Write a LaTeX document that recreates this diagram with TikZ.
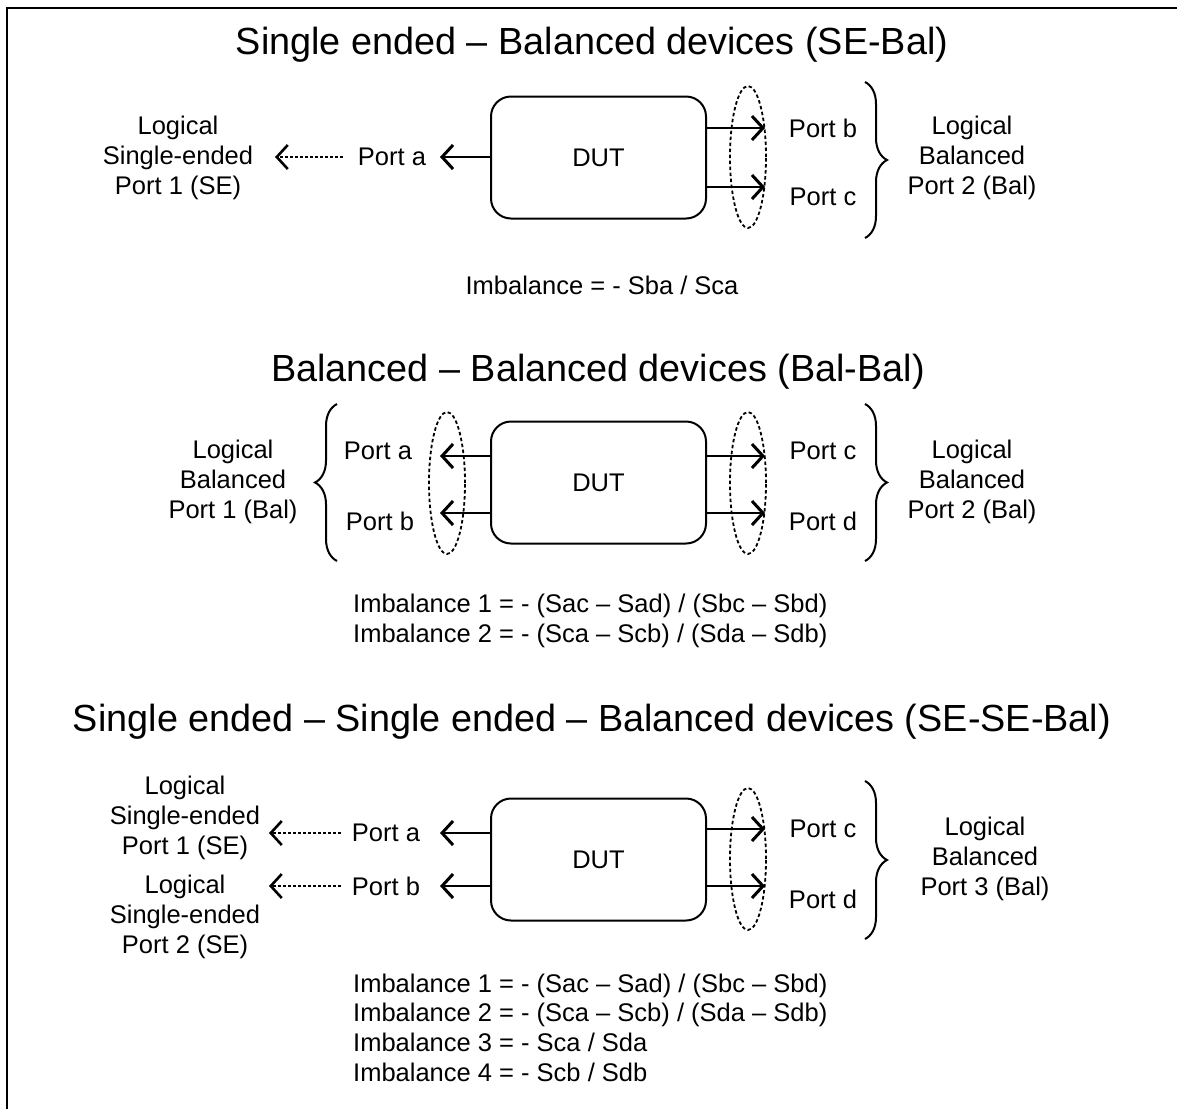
\documentclass[tikz,border=0pt]{standalone}
\usepackage{fontspec}
\setmainfont{Liberation Sans}
\usetikzlibrary{arrows.meta,decorations.pathreplacing,shapes.geometric}
\newcommand{\bodyf}{\fontsize{25.5pt}{30pt}\selectfont}
\newcommand{\titlef}{\fontsize{37.8pt}{44pt}\selectfont}
\begin{document}
\begin{tikzpicture}[x=1pt,y=-1pt,
  dutbox/.style={draw, line width=2pt, rounded corners=20pt, minimum width=215pt, minimum height=122pt, inner sep=0pt, font=\bodyf},
  arr/.style={line width=2.2pt, -{Straight Barb[length=11pt,width=24pt,line width=3pt]}},
  dasharr/.style={line width=1.6pt, dash pattern=on 3pt off 2pt, -{Straight Barb[length=11pt,width=24pt,line width=2.6pt]}},
  grp/.style={draw, ellipse, dash pattern=on 3.5pt off 2.5pt, line width=1.8pt, minimum width=36pt, minimum height=142pt, inner sep=0pt},
  brc/.style={decorate, decoration={brace, amplitude=22pt}, line width=2pt},
  lbl/.style={font=\bodyf, inner sep=0pt, align=center},
  ttl/.style={font=\titlef, inner sep=0pt}
]
\useasboundingbox (0,0) rectangle (1177,1109);
\draw[line width=2.5pt] (7,1109) -- (7,8) -- (1177,8);

%% Section 1
\node[ttl] (t1) at (592,45) {Single ended -- Balanced devices (SE-Bal)};
\node[dutbox] (d1) at (598.5,157.5) {DUT};
\node[lbl] (pa1) at (392,157) {Port a};
\node[lbl] (l1) at (178,158) {Logical\\Single-ended\\Port 1 (SE)};
\coordinate (a1e) at (440,157);
\draw[arr] (d1.west |- a1e) -- (a1e);
\coordinate (a1s) at (343,157);
\coordinate (a1t) at (275,157);
\draw[dasharr] (a1s) -- (a1t);
\coordinate (b1e) at (765,128);
\coordinate (c1e) at (765,187);
\draw[arr] (d1.east |- b1e) -- (b1e);
\draw[arr] (d1.east |- c1e) -- (c1e);
\node[grp] (e1) at (748,157) {};
\node[lbl] (pb1) at (823,128) {Port b};
\node[lbl] (pc1) at (823,197) {Port c};
\coordinate (br1a) at (865,82);
\coordinate (br1b) at (865,238);
\draw[brc] (br1a) -- (br1b);
\node[lbl] (r1) at (972,158) {Logical\\Balanced\\Port 2 (Bal)};
\node[lbl] (i1) at (602,285) {Imbalance = - Sba / Sca};

%% Section 2
\node[ttl] (t2) at (598,372) {Balanced -- Balanced devices (Bal-Bal)};
\node[dutbox] (d2) at (598.5,482.5) {DUT};
\coordinate (a2e) at (440,456);
\coordinate (b2e) at (440,513);
\draw[arr] (d2.west |- a2e) -- (a2e);
\draw[arr] (d2.west |- b2e) -- (b2e);
\node[grp] (e2l) at (447,483) {};
\node[lbl] (pa2) at (378,451) {Port a};
\node[lbl] (pb2) at (380,521) {Port b};
\coordinate (br2a) at (337,561);
\coordinate (br2b) at (337,404);
\draw[brc] (br2a) -- (br2b);
\node[lbl] (l2) at (233,482) {Logical\\Balanced\\Port 1 (Bal)};
\coordinate (c2e) at (765,456);
\coordinate (dd2e) at (765,513);
\draw[arr] (d2.east |- c2e) -- (c2e);
\draw[arr] (d2.east |- dd2e) -- (dd2e);
\node[grp] (e2r) at (748,483) {};
\node[lbl] (pc2) at (823,451) {Port c};
\node[lbl] (pd2) at (823,521) {Port d};
\coordinate (br3a) at (865,404);
\coordinate (br3b) at (865,561);
\draw[brc] (br3a) -- (br3b);
\node[lbl] (r2) at (972,482) {Logical\\Balanced\\Port 2 (Bal)};
\node[lbl, anchor=west, align=left] (i2) at (353,621) {Imbalance 1 = - (Sac -- Sad) / (Sbc -- Sbd)\\Imbalance 2 = - (Sca -- Scb) / (Sda -- Sdb)};

%% Section 3
\node[ttl] (t3) at (592,722) {Single ended -- Single ended -- Balanced devices (SE-SE-Bal)};
\node[dutbox] (d3) at (598.5,859.5) {DUT};
\coordinate (a3e) at (440,833);
\coordinate (b3e) at (440,886);
\draw[arr] (d3.west |- a3e) -- (a3e);
\draw[arr] (d3.west |- b3e) -- (b3e);
\node[lbl] (pa3) at (386,833) {Port a};
\node[lbl] (pb3) at (386,886) {Port b};
\coordinate (a3s) at (341,833);
\coordinate (a3t) at (269,833);
\coordinate (b3s) at (341,886);
\coordinate (b3t) at (269,886);
\draw[dasharr] (a3s) -- (a3t);
\draw[dasharr] (b3s) -- (b3t);
\node[lbl] (l3a) at (185,818) {Logical\\Single-ended\\Port 1 (SE)};
\node[lbl] (l3b) at (185,917) {Logical\\Single-ended\\Port 2 (SE)};
\coordinate (c3e) at (765,829);
\coordinate (dd3e) at (765,886);
\draw[arr] (d3.east |- c3e) -- (c3e);
\draw[arr] (d3.east |- dd3e) -- (dd3e);
\node[grp] (e3) at (748,859) {};
\node[lbl] (pc3) at (823,829) {Port c};
\node[lbl] (pd3) at (823,899) {Port d};
\coordinate (br4a) at (865,781);
\coordinate (br4b) at (865,939);
\draw[brc] (br4a) -- (br4b);
\node[lbl] (r3) at (985,859) {Logical\\Balanced\\Port 3 (Bal)};
\node[lbl, anchor=west, align=left, font=\fontsize{25.5pt}{29.7pt}\selectfont] (i3) at (353,1027.5) {Imbalance 1 = - (Sac -- Sad) / (Sbc -- Sbd)\\Imbalance 2 = - (Sca -- Scb) / (Sda -- Sdb)\\Imbalance 3 = - Sca / Sda\\Imbalance 4 = - Scb / Sdb};
\end{tikzpicture}
\end{document}
